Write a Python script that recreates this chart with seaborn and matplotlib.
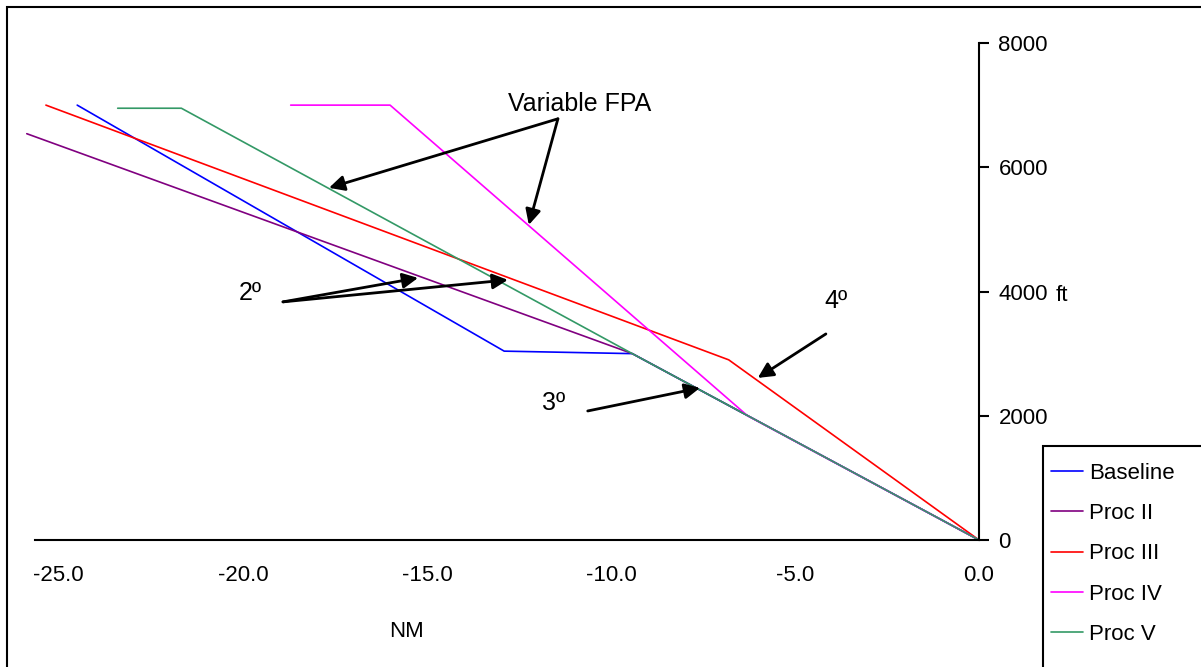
import numpy as np
import pandas as pd
import matplotlib
matplotlib.use('Agg')
import matplotlib.pyplot as plt
from matplotlib.patches import Rectangle
from matplotlib.lines import Line2D
import seaborn as sns

# 各程序的下降剖面：距离 (NM) 和高度 (ft)
procedures = ['Baseline', 'Proc II', 'Proc III', 'Proc IV', 'Proc V']
baseline_nm = [-24.5, -12.9, -9.42, 0.0]
baseline_ft = [7000, 3040, 3000, 0]
proc2_nm = [-25.87, -9.42, 0.0]
proc2_ft = [6540, 3000, 0]
proc3_nm = [-25.35, -6.8, 0.0]
proc3_ft = [7000, 2900, 0]
proc4_nm = [-18.7, -16.0, -6.29, 0.0]
proc4_ft = [7000, 7000, 2000, 0]
proc5_nm = [-23.4, -21.67, -9.42, 0.0]
proc5_ft = [6950, 6950, 3000, 0]
colors = ['#0000FF', '#800080', '#FF0000', '#FF00FF', '#339966']

x_ticks = [-25, -20, -15, -10, -5, 0]
y_ticks = [0, 2000, 4000, 6000, 8000]

# 标注: 文字位置, 箭头起点, 箭头终点 (数据坐标)
fpa_text = (-10.84, 7020)
fpa_from = (-11.44, 6780)
fpa_to = [(-17.66, 5668), (-12.23, 5072)]
two_text = (-19.81, 3977)
two_from = (-18.91, 3833)
two_to = [(-15.24, 4219), (-12.80, 4187)]
three_text = (-11.55, 2206)
three_from = (-10.63, 2077)
three_to = [(-7.58, 2448)]
four_text = (-3.89, 3849)
four_from = (-4.16, 3317)
four_to = [(-6.01, 2609)]

# 组装长表
all_nm = [baseline_nm, proc2_nm, proc3_nm, proc4_nm, proc5_nm]
all_ft = [baseline_ft, proc2_ft, proc3_ft, proc4_ft, proc5_ft]
frames = []
for name, nm, ft in zip(procedures, all_nm, all_ft):
    frames.append(pd.DataFrame({'NM': nm, 'ft': ft, 'proc': name}))
df = pd.concat(frames, ignore_index=True)

sns.set_style('white', {'text.color': 'black', 'axes.labelcolor': 'black',
                        'xtick.color': 'black', 'ytick.color': 'black',
                        'axes.edgecolor': 'black'})
plt.rcParams['font.family'] = ['Liberation Sans', 'DejaVu Sans']

W, H = 1201, 667
fig = plt.figure(figsize=(W / 100, H / 100), dpi=100)
ax = fig.add_axes([22 / W, 127 / H, 957 / W, 497 / H])

palette = dict(zip(procedures, colors))
sns.lineplot(data=df, x='NM', y='ft', hue='proc', hue_order=procedures,
             palette=palette, sort=False, estimator=None, lw=1.2,
             legend=False, ax=ax)

ax.set_xlim(-26, 0)
ax.set_ylim(0, 8000)
ax.set_xticks(x_ticks)
ax.set_xticklabels(['{:.1f}'.format(v) for v in x_ticks])
ax.set_yticks(y_ticks)
ax.yaxis.tick_right()

ax.spines['left'].set_visible(False)
ax.spines['top'].set_visible(False)
ax.spines['bottom'].set_bounds(-25.65, 0)
for s in ['bottom', 'right']:
    ax.spines[s].set_linewidth(1.5)

ax.tick_params(axis='x', direction='out', length=6.5, width=1.5, pad=11.5, labelsize=16)
ax.tick_params(axis='y', direction='out', length=7, width=1.5, pad=7, labelsize=16)

ax.set_xlabel('NM', fontsize=16)
ax.xaxis.set_label_coords(0.402, -0.185)
ax.xaxis.label.set_va('center')
ax.yaxis.set_label_position('right')
ax.set_ylabel('ft', fontsize=16, rotation=0)
ax.yaxis.set_label_coords(1.087, 0.491)
ax.yaxis.label.set_ha('center')
ax.yaxis.label.set_va('center')

# 箭头标注
arrow_kw = dict(arrowstyle='-|>', color='black', lw=2, mutation_scale=23,
                shrinkA=0, shrinkB=0)
for txt, pos, start, tips in [('Variable FPA', fpa_text, fpa_from, fpa_to),
                              ('2º', two_text, two_from, two_to),
                              ('3º', three_text, three_from, three_to),
                              ('4º', four_text, four_from, four_to)]:
    ax.text(pos[0], pos[1], txt, fontsize=18, ha='center', va='center')
    for tip in tips:
        ax.annotate('', xy=tip, xytext=start, arrowprops=arrow_kw)

# 图例 (边框延伸到图外)
handles = [Line2D([0], [0], color=c, lw=1.2) for c in colors]
fig.legend(handles, procedures, loc='upper left',
           bbox_to_anchor=(1044 / W, 1 - 456 / H), bbox_transform=fig.transFigure,
           frameon=False, fontsize=16, handlelength=1.45, handletextpad=0.28,
           labelspacing=0.87, borderpad=0.3, borderaxespad=0)
fig.patches.append(Rectangle((1043 / W, -0.05), 0.3, (1 - 446 / H) + 0.05,
                             transform=fig.transFigure, fill=False,
                             edgecolor='black', lw=1.5))

# 外框
fig.patches.append(Rectangle((7 / W, -0.1), 1.2, (1 - 7 / H) + 0.1,
                             transform=fig.transFigure, fill=False,
                             edgecolor='black', lw=1.5))

fig.savefig('out.png', dpi=100)
